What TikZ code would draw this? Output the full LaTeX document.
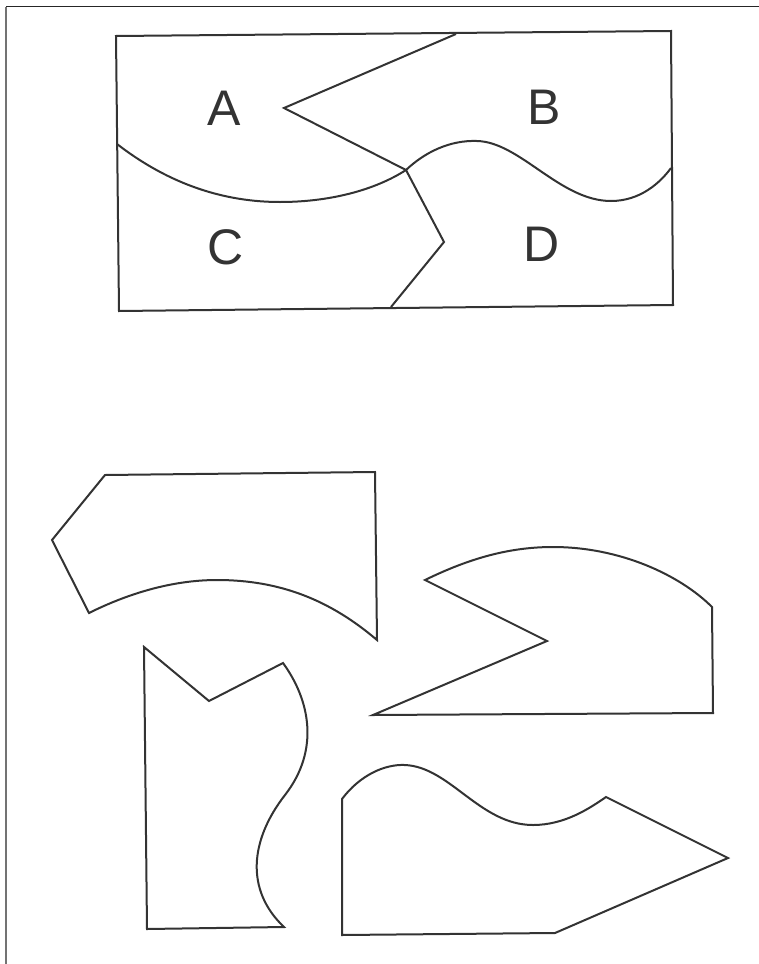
\documentclass[tikz,border=0pt]{standalone}
\usepackage{fontspec}
\setmainfont{Liberation Sans}
\begin{document}
\begin{tikzpicture}[x=1pt,y=-1pt,
  piece/.style={draw=black!80, line width=2pt, line join=miter},
  frame/.style={line width=1.6pt},
  letter/.style={font=\fontsize{50}{50}\selectfont, text=black!80, inner sep=0pt}]
\useasboundingbox (0,0) rectangle (759,964);
% outer frame lines
\draw[frame, black!85] (6,6.5) -- (759,6.5);
\draw[frame, black!55] (6,6.5) -- (6,964);

% top rectangle
\draw[piece] (116,36) -- (671,31) -- (673,305) -- (119,311) -- cycle;
% zigzag
\draw[piece] (456,34) -- (284,108) -- (406,170) -- (444,242) -- (391,307);
% A/C arc
\draw[piece] (117,144) .. controls (170,185) and (225,202) .. (280,202)
  .. controls (330,202) and (375,190) .. (406,170);
% B/D wave
\draw[piece] (406,170) .. controls (425,152) and (450,140) .. (477,141)
  .. controls (520,142) and (560,201) .. (611,201)
  .. controls (640,201) and (660,183) .. (671,168);

\node[letter] (la) at (224,108) {A};
\node[letter] (lb) at (544,107) {B};
\node[letter] (lc) at (226,247) {C};
\node[letter] (ld) at (542,244) {D};

% piece 1 (C rotated)
\draw[piece] (105,475) -- (375,472) -- (377,640)
  .. controls (330,600) and (280,580) .. (217,580)
  .. controls (170,580) and (125,595) .. (89,613) -- (52,540) -- cycle;

% piece 2 (A rotated)
\draw[piece] (425,580) .. controls (470,558) and (510,547) .. (553,547)
  .. controls (620,547) and (680,575) .. (712,607)
  -- (713,713) -- (373,715) -- (547,641) -- cycle;

% piece 3 (B rotated)
\draw[piece] (144,647) -- (209,701) -- (283,663)
  .. controls (310,700) and (320,750) .. (285,795)
  .. controls (250,840) and (245,890) .. (284,927)
  -- (147,929) -- cycle;

% piece 4 (D)
\draw[piece] (342,799) .. controls (360,775) and (385,764) .. (405,765)
  .. controls (450,767) and (480,825) .. (533,825)
  .. controls (565,825) and (590,808) .. (606,797)
  -- (728,858) -- (555,933) -- (342,935) -- cycle;
\end{tikzpicture}
\end{document}
